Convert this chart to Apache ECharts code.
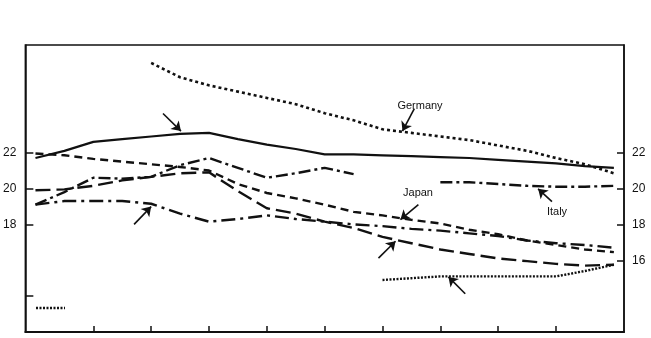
<!DOCTYPE html>
<html>
<head>
<meta charset="utf-8">
<script src="https://cdn.jsdelivr.net/npm/echarts@6.0.0/dist/echarts.min.js"></script>
<style>
  html, body { margin: 0; padding: 0; background: #fff; }
  #chartmain { width: 651px; height: 338px; }
</style>
</head>
<body>
<div id="chartmain"></div>
<script>
// periods on the x axis (no labels in the original, one point per period)
const periods = [0, 1, 2, 3, 4, 5, 6, 7, 8, 9, 10, 11, 12, 13, 14, 15, 16, 17, 18, 19, 20];
const xTicks = [2, 4, 6, 8, 10, 12, 14, 16, 18];
const leftTicks = [14, 18, 20, 22];
const leftLabels = [18, 20, 22];
const rightTicks = [16, 18, 20, 22];

// series values
const solidLine = [21.7, 22.1, 22.6, 22.75, 22.9, 23.05, 23.1, 22.75, 22.45, 22.2, 21.9, 21.9, 21.85, 21.8, 21.75, 21.7, 21.6, 21.5, 21.4, 21.25, 21.15];
const germany = [null, null, null, null, 27.0, 26.2, 25.75, 25.4, 25.05, 24.7, 24.2, 23.8, 23.3, 23.1, 22.9, 22.7, 22.4, 22.1, 21.7, 21.35, 20.85];
const japan = [21.95, 21.85, 21.65, 21.5, 21.35, 21.2, 21.0, 20.25, 19.75, 19.45, 19.1, 18.7, 18.5, 18.25, 18.05, 17.7, 17.45, 17.1, 16.85, 16.6, 16.45];
const longDash = [19.9, 19.95, 20.15, 20.45, 20.65, 20.85, 20.9, 19.85, 18.9, 18.6, 18.15, 17.8, 17.3, 16.95, 16.6, 16.35, 16.1, 15.95, 15.8, 15.7, 15.75];
const italy = [19.1, 19.8, 20.6, 20.55, 20.65, 21.3, 21.7, 21.15, 20.6, 20.85, 21.15, 20.8, null, null, 20.35, 20.35, 20.25, 20.15, 20.1, 20.1, 20.15];
const dashDot = [19.1, 19.3, 19.3, 19.3, 19.15, 18.6, 18.15, 18.3, 18.5, 18.3, 18.15, 18.0, 17.9, 17.75, 17.65, 17.5, 17.35, 17.1, 16.95, 16.85, 16.7];
const dotted = [null, null, null, null, null, null, null, null, null, null, null, null, 14.9, 15.0, 15.1, 15.1, 15.1, 15.1, 15.1, 15.4, 15.75];

// annotation arrows, [from, to] in data coordinates
const arrows = [
  [[4.41, 24.18], [5.03, 23.2]],
  [[13.1, 24.45], [12.69, 23.2]],
  [[13.24, 19.1], [12.62, 18.27]],
  [[17.86, 19.27], [17.38, 19.98]],
  [[3.41, 18.0], [4.0, 18.99]],
  [[11.86, 16.12], [12.45, 17.06]],
  [[14.86, 14.13], [14.28, 15.07]]
];

function pairs(vals) {
  return periods.map(function (p, i) { return [p, vals[i]]; });
}

function lineSeries(name, vals, dash, width) {
  return {
    name: name,
    type: 'line',
    data: pairs(vals),
    showSymbol: false,
    symbol: 'none',
    connectNulls: false,
    lineStyle: { color: '#111', width: width || 2, type: dash },
    silent: true
  };
}

let chart = echarts.init(document.getElementById('chartmain'));
let series = [
  lineSeries('solid', solidLine, 'solid', 2.2),
  lineSeries('Germany', germany, [3, 3], 2.6),
  lineSeries('Japan', japan, [8, 5], 2.4),
  lineSeries('longDash', longDash, [15, 6], 2.4),
  lineSeries('Italy', italy, [12, 4, 3, 4], 2.4),
  lineSeries('dashDot', dashDot, [14, 5, 3, 5], 2.4),
  lineSeries('dotted', dotted, [2, 1.5], 2.4)
];
// arrows hang off the solid series
series[0].markLine = {
  silent: true,
  symbol: ['none', 'arrow'],
  symbolSize: 9,
  label: { show: false },
  lineStyle: { color: '#111', width: 1.6, type: 'solid' },
  data: arrows.map(function (a) {
    return [{ coord: a[0], symbol: 'none' }, { coord: a[1], symbol: 'arrow', symbolSize: 9 }];
  })
};

let axisFont = { color: '#111', fontSize: 12, fontFamily: 'Liberation Sans, Arial' };

chart.setOption({
  animation: false,
  grid: {
    left: 24, right: 27, top: 45, bottom: 6,
    show: true, borderColor: '#111', borderWidth: 1.5
  },
  xAxis: {
    type: 'value',
    min: -0.35,
    max: 20.35,
    splitLine: { show: false },
    axisLine: { show: true, onZero: false, lineStyle: { color: '#111', width: 2 } },
    axisTick: { show: true, inside: true, length: 6, customValues: xTicks, lineStyle: { color: '#111', width: 1.5 } },
    axisLabel: { show: false }
  },
  yAxis: [
    {
      type: 'value',
      position: 'left',
      min: 12,
      max: 28,
      splitLine: { show: false },
      axisLine: { show: true, onZero: false, lineStyle: { color: '#111', width: 1.5 } },
      axisTick: { show: true, inside: true, length: 8, customValues: leftTicks, lineStyle: { color: '#111', width: 1.5 } },
      axisLabel: Object.assign({ customValues: leftLabels, margin: 9 }, axisFont)
    },
    {
      type: 'value',
      position: 'right',
      min: 12,
      max: 28,
      splitLine: { show: false },
      axisLine: { show: true, onZero: false, lineStyle: { color: '#111', width: 1.5 } },
      axisTick: { show: true, inside: true, length: 7, customValues: rightTicks, lineStyle: { color: '#111', width: 1.5 } },
      axisLabel: Object.assign({ customValues: rightTicks, margin: 8 }, axisFont)
    }
  ],
  series: series,
  graphic: [
    { type: 'text', x: 420, y: 106, style: { text: 'Germany', fill: '#111', font: '11px Liberation Sans, Arial', align: 'center', verticalAlign: 'middle' } },
    { type: 'text', x: 418, y: 193, style: { text: 'Japan', fill: '#111', font: '11px Liberation Sans, Arial', align: 'center', verticalAlign: 'middle' } },
    { type: 'text', x: 557, y: 212, style: { text: 'Italy', fill: '#111', font: '11px Liberation Sans, Arial', align: 'center', verticalAlign: 'middle' } },
    // legend key whose label is lost in the original
    { type: 'line', shape: { x1: 36, y1: 308, x2: 65, y2: 308 }, style: { stroke: '#111', lineWidth: 2.4, lineDash: [2, 1.5] } }
  ]
});
</script>
</body>
</html>
